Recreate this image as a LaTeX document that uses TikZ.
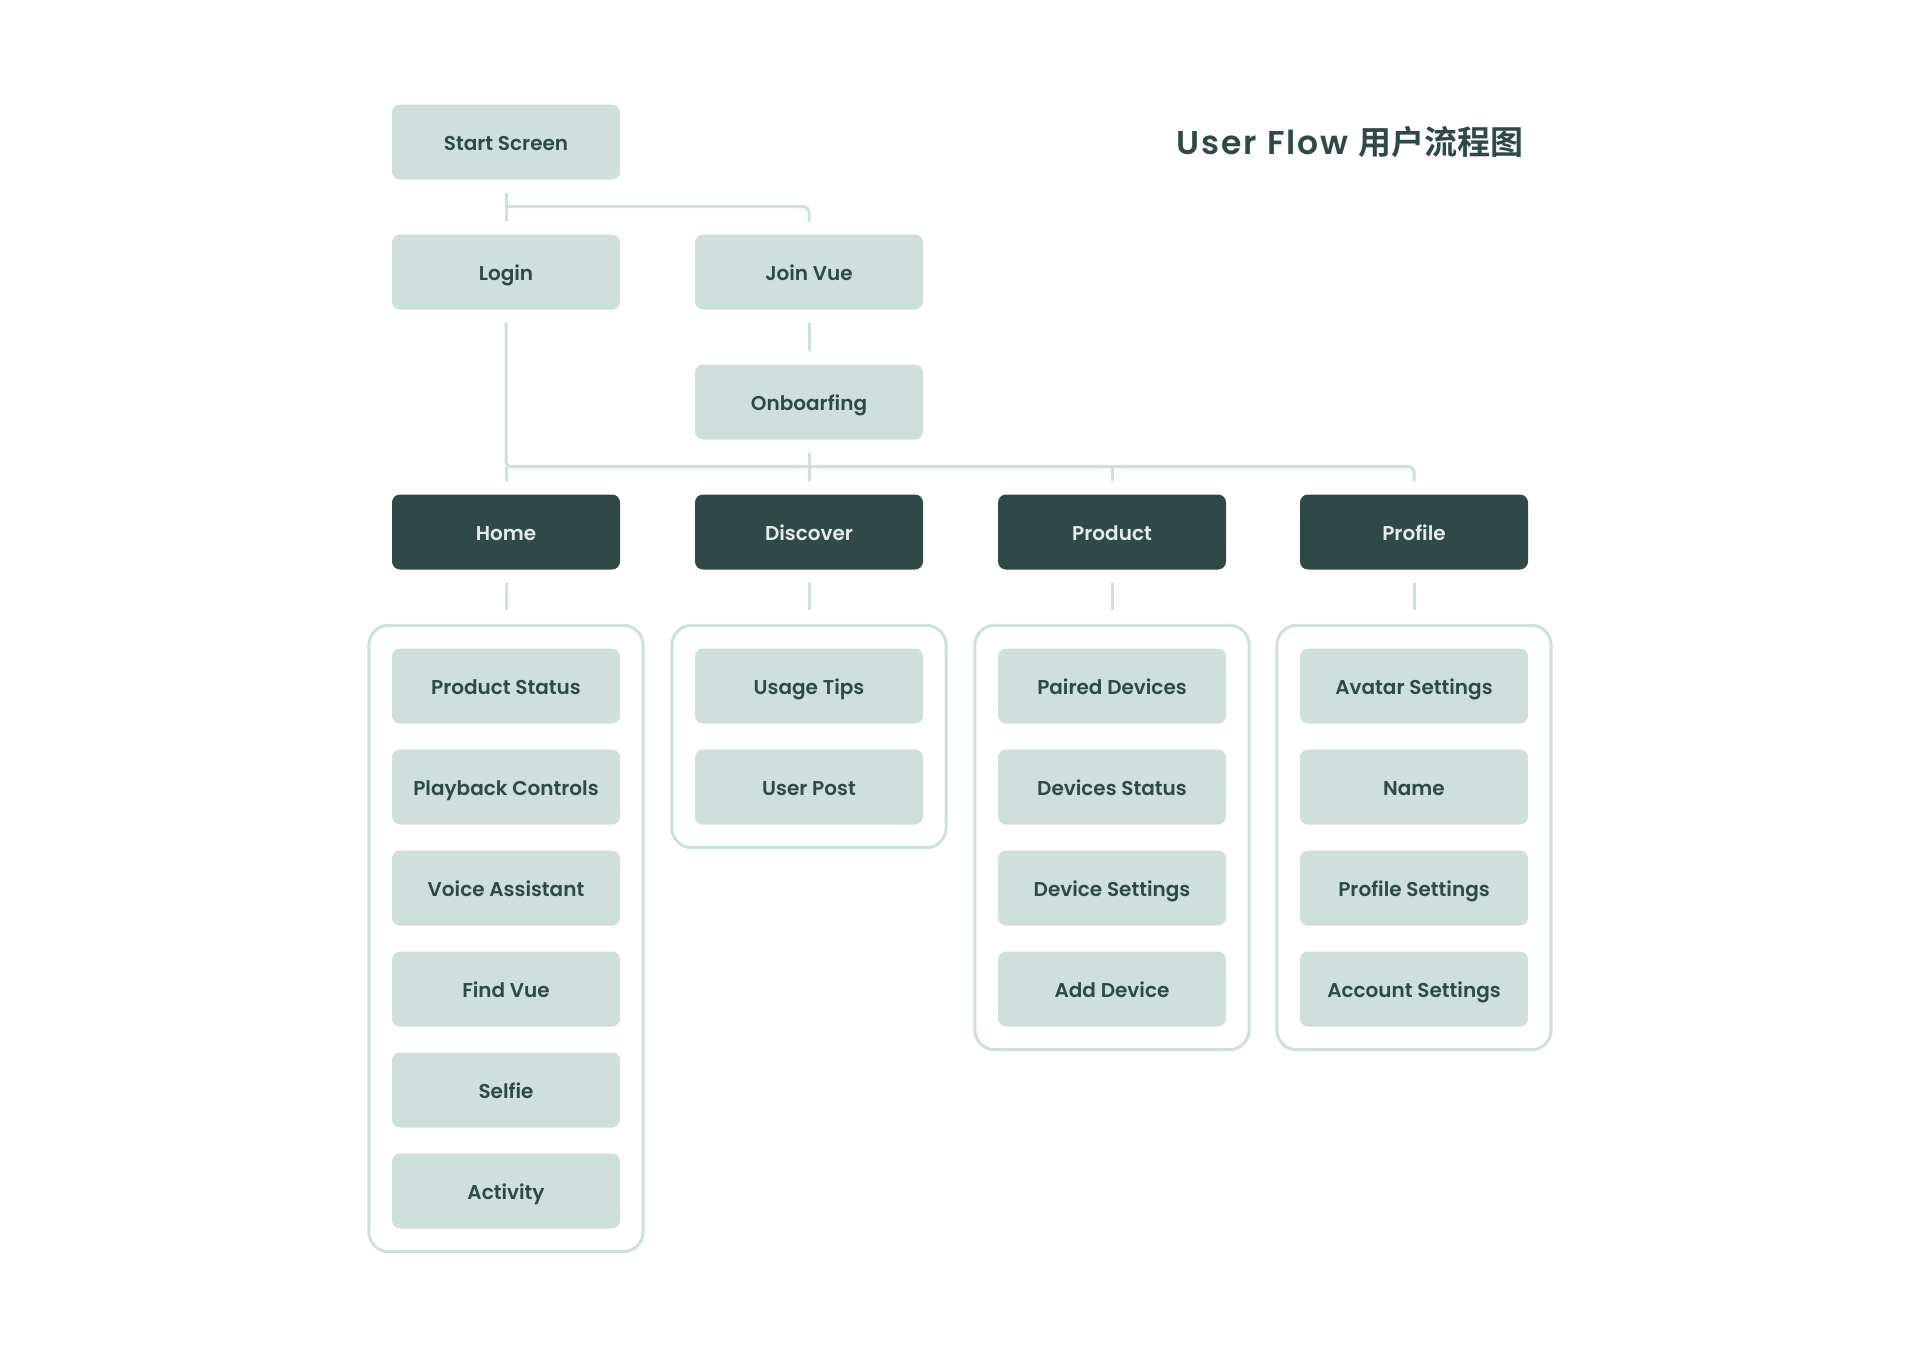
\documentclass[tikz,border=0pt]{standalone}
\usepackage{fontspec}
\usepackage{tikz}
\usetikzlibrary{fit}
\newfontfamily\boxfont{Poppins SemiBold}
\newfontfamily\titlefont{Poppins SemiBold}[LetterSpace=6]
\newfontfamily\cjk{Noto Sans CJK SC Bold}
\definecolor{ink}{HTML}{2F4A46}
\definecolor{boxlight}{HTML}{CFDFDC}
\definecolor{tabtext}{HTML}{E3ECEA}
\begin{document}
\begin{tikzpicture}[x=1pt, y=-1pt,
    box/.style={rectangle, rounded corners=8pt, fill=boxlight, text=ink, minimum width=228pt, minimum height=75pt, inner sep=0pt, text height=16.5pt, text depth=0pt, font=\boxfont\fontsize{20}{24}\selectfont},
    tab/.style={box, fill=ink, text=tabtext},
    group/.style={draw=boxlight, line width=3pt, rounded corners=20pt, inner sep=23pt},
    link/.style={draw=boxlight, line width=3pt, rounded corners=5pt}]
    \useasboundingbox (0,0) rectangle (1920,1360);
    % entry
    \node[box] (start) at (506,142) {Start Screen};
    \node[box] (login) at (506,272) {Login};
    \node[box] (join) at (809,272) {Join Vue};
    \node[box] (onb) at (809,402) {Onboarfing};
    \node[anchor=east, text=ink, font=\titlefont\fontsize{33}{39}\selectfont] (title) at (1527,142) {User Flow {\cjk 用户流程图}};
    % tabs
    \node[tab] (home) at (506,532) {Home};
    \node[tab] (disc) at (809,532) {Discover};
    \node[tab] (prod) at (1112,532) {Product};
    \node[tab] (prof) at (1414,532) {Profile};
    % screens
    \foreach \name [count=\k from 0] in {Product Status, Playback Controls, Voice Assistant, Find Vue, Selfie, Activity}
        \node[box] (home\k) at (506,686+101*\k) {\name};
    \foreach \name [count=\k from 0] in {Usage Tips, User Post}
        \node[box] (disc\k) at (809,686+101*\k) {\name};
    \foreach \name [count=\k from 0] in {Paired Devices, Devices Status, Device Settings, Add Device}
        \node[box] (prod\k) at (1112,686+101*\k) {\name};
    \foreach \name [count=\k from 0] in {Avatar Settings, Name, Profile Settings, Account Settings}
        \node[box] (prof\k) at (1414,686+101*\k) {\name};
    \node[group, fit=(home0)(home5)] (homegrp) {};
    \node[group, fit=(disc0)(disc1)] (discgrp) {};
    \node[group, fit=(prod0)(prod3)] (prodgrp) {};
    \node[group, fit=(prof0)(prof3)] (profgrp) {};
    % links
    \coordinate (bus) at ([yshift=-27pt]onb.south);
    \draw[link] ([yshift=-13pt]start.south) -- ([yshift=13pt]login.north);
    \draw[link] ([yshift=-27pt]start.south) -| ([yshift=13pt]join.north);
    \draw[link] ([yshift=-13pt]join.south) -- ([yshift=13pt]onb.north);
    \draw[link] ([yshift=-13pt]login.south) |- (bus) -| ([yshift=13pt]prof.north);
    \draw[link] ([yshift=-13pt]onb.south) -- ([yshift=13pt]disc.north);
    \draw[link] (home.north |- bus) -- ([yshift=13pt]home.north);
    \draw[link] (prod.north |- bus) -- ([yshift=13pt]prod.north);
    \foreach \t in {home, disc, prod, prof}
        \draw[link] ([yshift=-13pt]\t.south) -- ([yshift=14pt]\t grp.north);
\end{tikzpicture}
\end{document}
